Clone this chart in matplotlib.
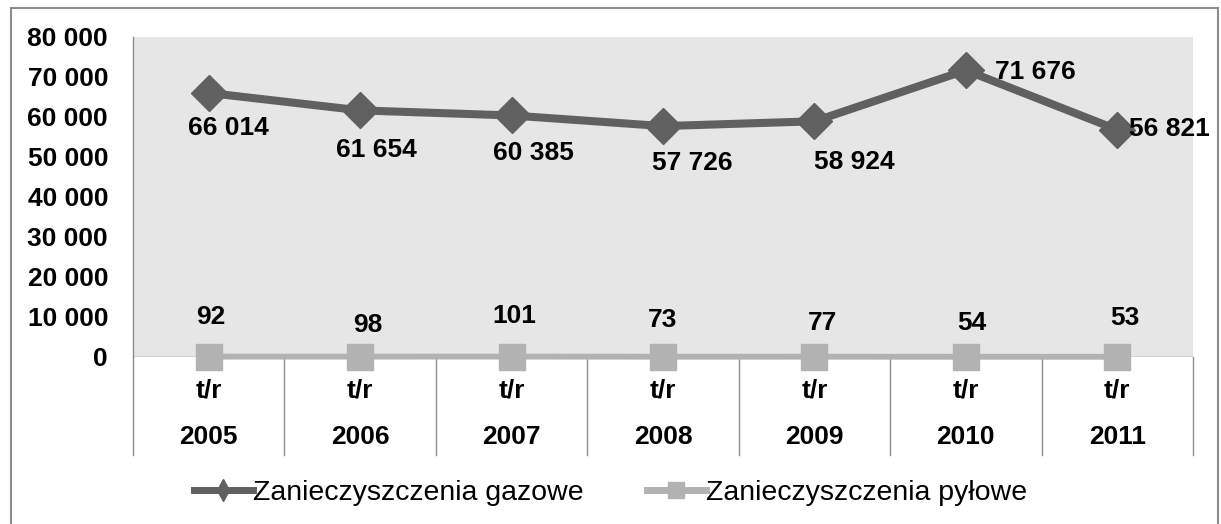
import matplotlib.pyplot as plt
from matplotlib.lines import Line2D
from matplotlib.patches import Rectangle
import matplotlib.transforms as mtransforms

plt.rcParams['font.family'] = ['Liberation Sans', 'DejaVu Sans']

# dane
lata = ['2005', '2006', '2007', '2008', '2009', '2010', '2011']
jednostka = 't/r'
gazowe = [66014, 61654, 60385, 57726, 58924, 71676, 56821]
pylowe = [92, 98, 101, 73, 77, 54, 53]
y_ticks = [0, 10000, 20000, 30000, 40000, 50000, 60000, 70000, 80000]

# przesunięcia etykiet (px)
off_gaz = [(20, -35, 'center'), (16, -40, 'center'), (22, -38, 'center'),
           (29, -37, 'center'), (40, -41, 'center'), (29, -2, 'left'),
           (12, 1, 'left')]
off_pyl = [(2, 40), (8, 32), (3, 41), (0, 37), (8, 34), (6, 34), (8, 39)]

FS = 19
W, H = 1221, 524
fig = plt.figure(figsize=(W / 100, H / 100), dpi=100)
ax = fig.add_axes([133 / W, 1 - 357 / H, (1193 - 133) / W, 320 / H])
ax.set_facecolor('#e6e6e6')

x = list(range(len(lata)))
ax.plot(x, gazowe, color='#606060', lw=5.8, marker='D', ms=18,
        solid_joinstyle='miter', zorder=3)
ax.plot(x, pylowe, color='#b2b2b2', lw=4.2, marker='s', ms=18.5, zorder=3,
        clip_on=False)

fmt = lambda v: f"{v:,}".replace(',', ' ')
for xi, v, (dx, dy, ha) in zip(x, gazowe, off_gaz):
    ax.annotate(fmt(v), (xi, v), xytext=(dx * 0.72, dy * 0.72),
                textcoords='offset points', ha=ha, va='center',
                fontsize=FS, fontweight='bold', zorder=4)
for xi, v, (dx, dy) in zip(x, pylowe, off_pyl):
    ax.annotate(fmt(v), (xi, v), xytext=(dx * 0.72, dy * 0.72),
                textcoords='offset points', ha='center', va='center',
                fontsize=FS, fontweight='bold', zorder=4)

ax.set_xlim(-0.5, len(lata) - 0.5)
ax.set_ylim(0, 80000)
ax.set_yticks(y_ticks)
ax.set_yticklabels([fmt(t) for t in y_ticks], fontsize=FS, fontweight='bold')
ax.tick_params(axis='y', length=0, pad=18)
ax.set_xticks([])

for s in ['top', 'right', 'bottom']:
    ax.spines[s].set_visible(False)
ax.spines['left'].set_color('#8c8c8c')
ax.spines['left'].set_linewidth(1)
ax.axhline(0, color='#8c8c8c', lw=1, zorder=1)

# kategorie osi X: separatory oraz dwa poziomy etykiet
trans = mtransforms.blended_transform_factory(ax.transData, ax.transAxes)
for b in range(len(lata) + 1):
    ax.plot([b - 0.5, b - 0.5], [0, -0.306], transform=trans,
            color='#8c8c8c', lw=1, clip_on=False)
for xi, rok in zip(x, lata):
    ax.text(xi, -0.105, jednostka, transform=trans, ha='center', va='center',
            fontsize=FS, fontweight='bold')
    ax.text(xi, -0.25, rok, transform=trans, ha='center', va='center',
            fontsize=FS, fontweight='bold')

# legenda
uchwyty = [Line2D([], [], color='#606060', lw=5, marker='d', ms=11),
           Line2D([], [], color='#b2b2b2', lw=5, marker='s', ms=12)]
fig.legend(uchwyty, ['Zanieczyszczenia gazowe', 'Zanieczyszczenia pyłowe'],
           loc='center', bbox_to_anchor=(0.5, 1 - 493 / H), ncol=2,
           frameon=False, handlelength=2.1, handletextpad=0.0,
           columnspacing=2.2, prop={'size': 20.5})

# ramka wykresu
fig.patches.append(Rectangle((10.5 / W, -0.02), (1218 - 10.5) / W,
                             1 - 7.5 / H + 0.02, transform=fig.transFigure,
                             fill=False, edgecolor='#8c8c8c', lw=1.5))

fig.savefig('out.png', dpi=100)
